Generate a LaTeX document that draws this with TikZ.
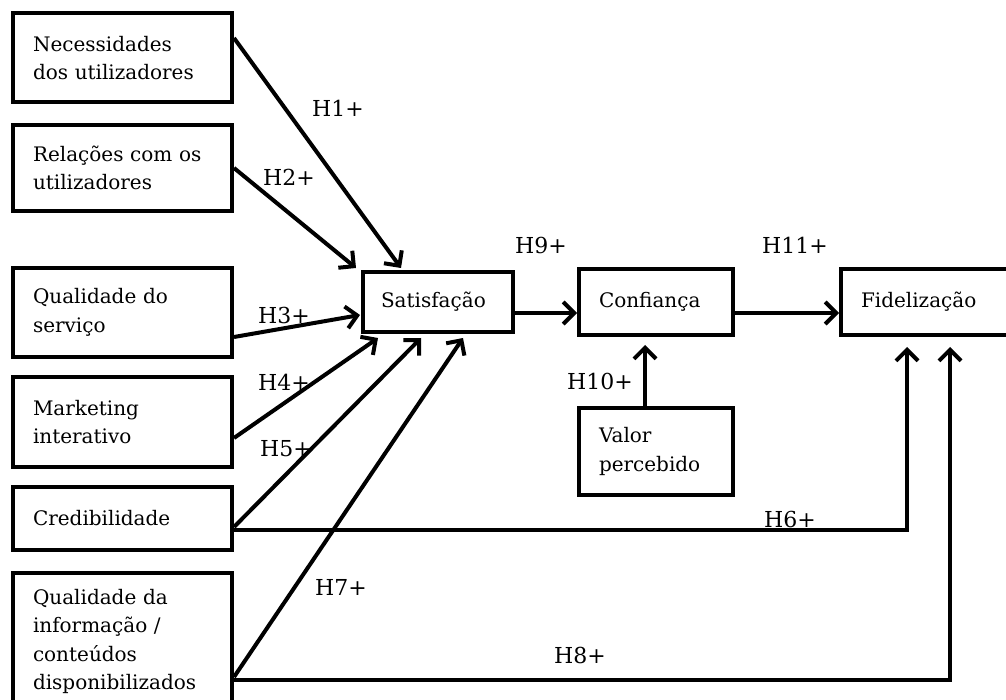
\documentclass[tikz,border=0pt]{standalone}
\usepackage{fontspec}
\setmainfont{DejaVu Serif}
\usetikzlibrary{arrows.meta}
\begin{document}
\begin{tikzpicture}[x=1pt,y=-1pt,
  box/.style={draw,line width=4pt,inner xsep=20pt,inner ysep=0pt,align=left,
    font=\fontsize{20}{28.5}\selectfont},
  lbl/.style={inner sep=0pt,font=\fontsize{22}{26}\selectfont},
  arr/.style={line width=4pt,-{Straight Barb[length=11pt,width=22pt]}}]
\useasboundingbox (0,0) rectangle (1006,700);
\clip (0,0) rectangle (1006,700);
% left column
\node[box,text width=179pt,minimum height=89pt] (n1) at (122.5,58) {Necessidades\\dos utilizadores};
\node[box,text width=179pt,minimum height=86pt] (n2) at (122.5,168) {Relações com os\\utilizadores};
\node[box,text width=179pt,minimum height=89pt] (n3) at (122.5,312.5) {Qualidade do\\serviço};
\node[box,text width=179pt,minimum height=90pt] (n4) at (122.5,422) {Marketing\\interativo};
\node[box,text width=179pt,minimum height=63pt] (n5) at (122.5,518.5) {Credibilidade};
\node[box,text width=179pt,minimum height=137pt] (n6) at (122.5,641.5) {Qualidade da\\informação /\\conteúdos\\disponibilizados};
% central
\node[box,minimum height=60pt,inner xsep=18pt,text width=114pt] (sat) at (438,302) {Satisfação};
\node[box,text width=114pt,minimum height=66pt] (conf) at (656,302) {Confiança};
\node[box,text width=131pt,minimum height=66pt] (fid) at (926.5,302) {Fidelização};
\node[box,text width=114pt,minimum height=87pt] (val) at (656,451.5) {Valor\\percebido};
% arrows to Satisfação
\draw[arr] ([yshift=20pt]n1.east) -- ([xshift=40pt,yshift=2pt]sat.north west);
\draw[arr] (n2.east) -- ([xshift=-5pt,yshift=2pt]sat.north west);
\draw[arr] ([yshift=-24.5pt]n3.east) -- ([xshift=-1pt,yshift=-13pt]sat.west);
\draw[arr] ([yshift=-16pt]n4.east) -- ([xshift=17pt,yshift=-4pt]sat.south west);
\draw[arr] ([yshift=-8.5pt]n5.east) -- ([xshift=60pt,yshift=-4pt]sat.south west);
\draw[arr] ([yshift=-35.5pt]n6.east) -- ([xshift=102pt,yshift=-4pt]sat.south west);
% chain
\draw[arr] ([yshift=-11pt]sat.east) -- ([yshift=-11pt]conf.west);
\draw[arr] ([yshift=-11pt]conf.east) -- ([yshift=-11pt]fid.west);
\draw[arr] ([xshift=-11pt]val.north) -- ([xshift=-11pt,yshift=-8pt]conf.south);
% to Fidelização
\draw[arr] ([yshift=-11.5pt]n5.east) -| ([xshift=-19.5pt,yshift=-10pt]fid.south);
\draw[arr] ([yshift=-38.5pt]n6.east) -| ([xshift=23.5pt,yshift=-10pt]fid.south);
% labels
\node[lbl] (h1) at (338,108) {H1+};
\node[lbl] (h2) at (289,177) {H2+};
\node[lbl] (h3) at (284,315) {H3+};
\node[lbl] (h4) at (284,382) {H4+};
\node[lbl] (h5) at (286,449) {H5+};
\node[lbl] (h7) at (341,587) {H7+};
\node[lbl] (h6) at (790,519) {H6+};
\node[lbl] (h8) at (580,655) {H8+};
\node[lbl] (h9) at (541,245) {H9+};
\node[lbl] (h11) at (795,245) {H11+};
\node[lbl] (h10) at (600,381) {H10+};
\end{tikzpicture}
\end{document}
